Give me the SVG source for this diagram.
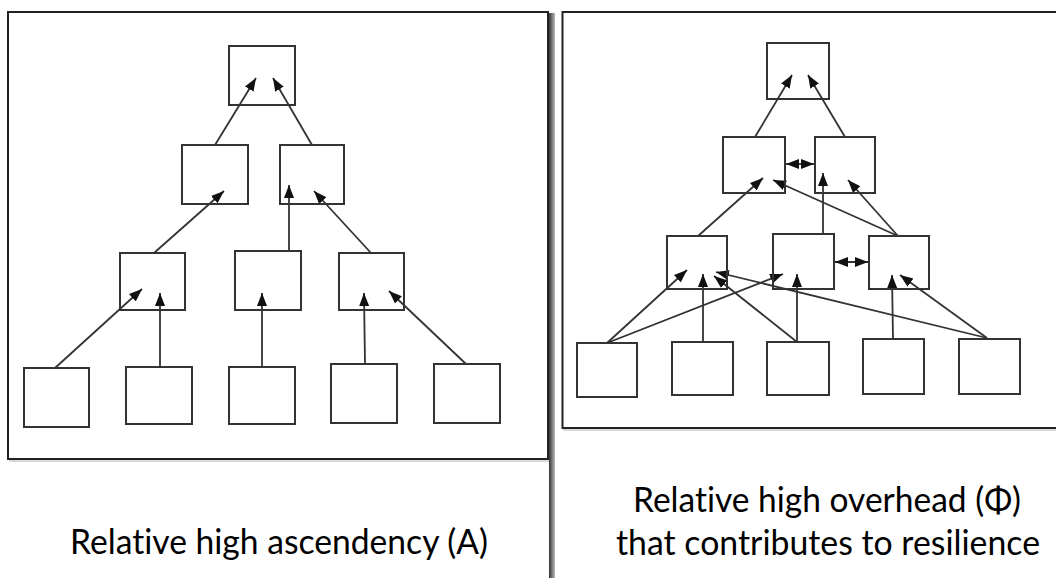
<svg xmlns="http://www.w3.org/2000/svg" width="1056" height="578" viewBox="0 0 1056 578">
<style>
.frame{fill:none;stroke:#222;stroke-width:2}
.box{fill:none;stroke:#333;stroke-width:2}
.ln{fill:none;stroke:#333;stroke-width:1.8}
.arr{marker-end:url(#ah)}
.dbl{marker-start:url(#ah);marker-end:url(#ah)}
.lbl{font-family:Lato,"Open Sans",sans-serif;font-size:34px;fill:#000;font-variant-ligatures:none;font-feature-settings:"liga" 0}
</style>
<defs>
<marker id="ah" markerUnits="userSpaceOnUse" markerWidth="14" markerHeight="14" viewBox="0 0 14 14" refX="13" refY="7" orient="auto-start-reverse">
<path d="M0,2 L13,7 L0,12 Z" fill="#111"/>
</marker>
<linearGradient id="shd" x1="0" y1="0" x2="1" y2="0">
<stop offset="0" stop-color="#333"/>
<stop offset="1" stop-color="#bbb"/>
</linearGradient>
</defs>
<rect width="1056" height="578" fill="#fff"/>
<g id="frames">
<rect x="549" y="13" width="6" height="565" fill="url(#shd)"/>
<line x1="9" y1="461" x2="549" y2="461" stroke="#ccc" stroke-width="1.5"/>
<rect class="frame" x="8" y="12" width="540" height="447"/>
<line x1="563" y1="430" x2="1056" y2="430" stroke="#ccc" stroke-width="1.5"/>
<rect class="frame" x="562.5" y="12" width="500" height="416"/>
</g>
<g id="connectors">
<line class="ln arr" x1="215" y1="145" x2="256" y2="78"/>
<line class="ln arr" x1="312" y1="145" x2="273" y2="78"/>
<line class="ln arr" x1="154" y1="253" x2="224" y2="191"/>
<line class="ln arr" x1="289" y1="251" x2="289" y2="185"/>
<line class="ln arr" x1="371" y1="253" x2="314" y2="191"/>
<line class="ln arr" x1="55" y1="368" x2="142" y2="289"/>
<line class="ln arr" x1="160" y1="367" x2="160" y2="293"/>
<line class="ln arr" x1="262" y1="367" x2="262" y2="293"/>
<line class="ln arr" x1="365" y1="364" x2="364" y2="293"/>
<line class="ln arr" x1="466" y1="364" x2="389" y2="291"/>
<line class="ln arr" x1="755" y1="137" x2="792" y2="75"/>
<line class="ln arr" x1="845" y1="137" x2="808" y2="75"/>
<line class="ln dbl" x1="786" y1="164" x2="814" y2="164"/>
<line class="ln arr" x1="698" y1="236" x2="763" y2="178"/>
<line class="ln arr" x1="898" y1="236" x2="773" y2="180"/>
<line class="ln arr" x1="823" y1="234" x2="823" y2="173"/>
<line class="ln arr" x1="898" y1="236" x2="848" y2="180"/>
<line class="ln dbl" x1="835" y1="262" x2="868" y2="262"/>
<line class="ln arr" x1="607" y1="343" x2="687" y2="270"/>
<line class="ln arr" x1="607" y1="343" x2="783" y2="274"/>
<line class="ln arr" x1="703" y1="342" x2="703" y2="274"/>
<line class="ln arr" x1="797" y1="342" x2="714" y2="276"/>
<line class="ln arr" x1="987" y1="338" x2="716" y2="272"/>
<line class="ln arr" x1="797" y1="342" x2="797" y2="274"/>
<line class="ln arr" x1="893" y1="339" x2="892" y2="275"/>
<line class="ln arr" x1="987" y1="338" x2="900" y2="275"/>
</g>
<g id="left-top"><rect class="box" x="229" y="46" width="66" height="59"/></g>
<g id="left-l2a"><rect class="box" x="182" y="145" width="66" height="59"/></g>
<g id="left-l2b"><rect class="box" x="280" y="145" width="64" height="59"/></g>
<g id="left-l3a"><rect class="box" x="120" y="253" width="65" height="57"/></g>
<g id="left-l3b"><rect class="box" x="235" y="251" width="66" height="59"/></g>
<g id="left-l3c"><rect class="box" x="339" y="253" width="65" height="57"/></g>
<g id="left-b1"><rect class="box" x="24" y="368" width="65" height="59"/></g>
<g id="left-b2"><rect class="box" x="126" y="367" width="66" height="57"/></g>
<g id="left-b3"><rect class="box" x="229" y="367" width="66" height="57"/></g>
<g id="left-b4"><rect class="box" x="331" y="364" width="66" height="59"/></g>
<g id="left-b5"><rect class="box" x="434" y="364" width="66" height="59"/></g>
<g id="right-top"><rect class="box" x="767" y="43" width="62" height="56"/></g>
<g id="right-l2a"><rect class="box" x="723" y="137" width="62" height="56"/></g>
<g id="right-l2b"><rect class="box" x="815" y="137" width="60" height="56"/></g>
<g id="right-l3a"><rect class="box" x="667" y="236" width="60" height="53"/></g>
<g id="right-l3b"><rect class="box" x="773" y="234" width="61" height="55"/></g>
<g id="right-l3c"><rect class="box" x="869" y="236" width="60" height="53"/></g>
<g id="right-b1"><rect class="box" x="577" y="343" width="60" height="54"/></g>
<g id="right-b2"><rect class="box" x="672" y="342" width="61" height="53"/></g>
<g id="right-b3"><rect class="box" x="767" y="342" width="62" height="53"/></g>
<g id="right-b4"><rect class="box" x="863" y="339" width="61" height="55"/></g>
<g id="right-b5"><rect class="box" x="959" y="339" width="61" height="55"/></g>
<g id="labels">
<text class="lbl" x="70" y="554" textLength="418" lengthAdjust="spacingAndGlyphs">Relative high ascendency (A)</text>
<text class="lbl" x="633" y="512" textLength="388" lengthAdjust="spacingAndGlyphs">Relative high overhead (Φ)</text>
<text class="lbl" x="616" y="555" textLength="424" lengthAdjust="spacingAndGlyphs">that contributes to resilience</text>
</g>
</svg>
